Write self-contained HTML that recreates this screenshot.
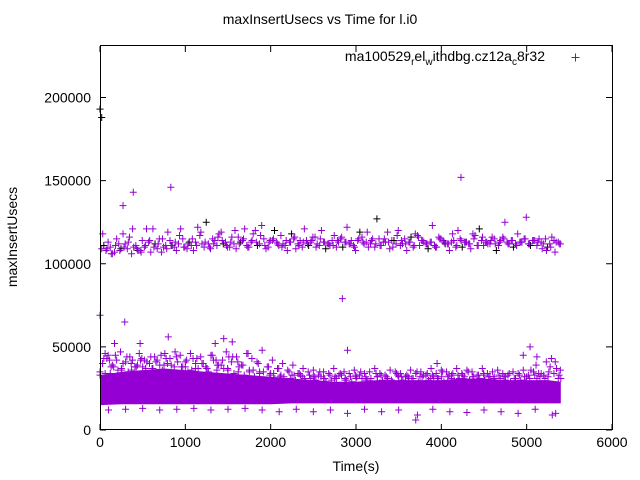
<!DOCTYPE html>
<html><head><meta charset="utf-8"><style>
body{margin:0;background:#fff}
svg{display:block;font-family:"Liberation Sans",sans-serif}
</style></head><body>
<svg id="chart" width="640" height="480" viewBox="0 0 640 480" xmlns="http://www.w3.org/2000/svg">
<rect width="640" height="480" fill="#fff"/>
<text x="320" y="24" font-size="14" text-anchor="middle">maxInsertUsecs vs Time for l.i0</text>
<text transform="translate(17,237) rotate(-90)" font-size="14" text-anchor="middle">maxInsertUsecs</text>
<text x="356" y="471" font-size="14" text-anchor="middle">Time(s)</text>
<g id="ticks"></g>
<g id="band"></g>
<g id="marks"></g>
<rect x="100.5" y="45.5" width="512" height="384" fill="none" stroke="#000" stroke-width="1"/>
<g>
<text x="545" y="61" font-size="14" text-anchor="end">ma100529<tspan font-size="10" dy="4">r</tspan><tspan dy="-4">el</tspan><tspan font-size="10" dy="4">w</tspan><tspan dy="-4">ithdbg.cz12a</tspan><tspan font-size="10" dy="4">c</tspan><tspan dy="-4">8r32</tspan></text>
<path d="M571.5,57.5h8M575.5,53.5v8" stroke="#9400d3" fill="none" stroke-width="1"/>
</g>
</svg>
<script>
const xTicks=[0,1000,2000,3000,4000,5000,6000];
const yTicks=[0,50000,100000,150000,200000];
const upperTimes=[20,70,120,170,220,270,320,370,420,470,520,570,620,670,720,770,820,870,920,970,1020,1070,1120,1170,1220,1270,1320,1370,1420,1470,1520,1570,1620,1670,1720,1770,1820,1870,1920,1970,2020,2070,2120,2170,2220,2270,2320,2370,2420,2470,2520,2570,2620,2670,2720,2770,2820,2870,2920,2970,3020,3070,3120,3170,3220,3270,3320,3370,3420,3470,3520,3570,3620,3670,3720,3770,3820,3870,3920,3970,4020,4070,4120,4170,4220,4270,4320,4370,4420,4470,4520,4570,4620,4670,4720,4770,4820,4870,4920,4970,5020,5070,5120,5170,5220,5270,5320,5370];
const upperA=[109000,108000,110000,107000,112000,118000,109000,106000,111000,108000,110000,113000,121000,109000,107000,111000,114000,110000,112000,115000,109000,111000,113000,117000,110000,112000,115000,111000,119000,113000,110000,112000,116000,114000,111000,113000,120000,112000,115000,110000,114000,113000,117000,111000,113000,115000,112000,110000,114000,113000,116000,111000,113000,112000,114000,110000,115000,113000,112000,111000,114000,116000,113000,112000,110000,115000,113000,119000,114000,112000,111000,115000,113000,110000,117000,114000,112000,113000,111000,116000,114000,112000,113000,110000,115000,113000,112000,118000,111000,114000,113000,112000,115000,111000,116000,113000,114000,112000,113000,115000,112000,114000,111000,113000,115000,112000,114000,113000];
const upperB=[111000,113000,106000,115000,109000,112000,116000,110000,108000,114000,121000,107000,112000,115000,110000,119000,111000,108000,121000,110000,113000,108000,122000,112000,125000,109000,114000,118000,112000,110000,116000,109000,113000,121000,110000,118000,111000,123000,109000,114000,120000,111000,112000,108000,118000,109000,114000,121000,111000,116000,112000,120000,109000,111000,117000,113000,110000,122000,114000,108000,119000,112000,110000,115000,127000,111000,113000,109000,114000,120000,112000,108000,116000,118000,111000,113000,109000,123000,110000,115000,112000,108000,114000,120000,110000,113000,109000,117000,121000,111000,112000,116000,108000,114000,125000,112000,110000,118000,113000,128000,111000,114000,115000,112000,110000,116000,113000,112000];
const bandTimes=[0,250,500,750,1000,1250,1500,1750,2000,2250,2500,2750,3000,3250,3500,3750,4000,4250,4500,4750,5000,5250,5400];
const bandLow=[15000,15500,15500,15500,15500,15500,15500,15500,15500,16000,16000,16000,16000,16000,16000,16000,16000,16000,16000,16000,16000,16000,16000];
const bandHigh=[33000,35000,36000,37000,36000,35000,34000,33000,32000,31000,30000,29000,29000,30000,30000,30000,30000,31000,31000,30000,30000,30000,29000];
const topTimes=[30,80,130,180,240,300,350,410,460,520,580,640,700,760,820,880,940,1000,1060,1120,1180,1240,1300,1360,1420,1480,1540,1600,1660,1720,1780,1840,1900,1960,2020,2080,2140,2200,2260,2320,2380,2440,2500,2560,2620,2680,2740,2800,2860,2920,2980,3040,3100,3160,3220,3280,3340,3400,3460,3520,3580,3640,3700,3760,3820,3880,3940,4000,4060,4120,4180,4240,4300,4360,4420,4480,4540,4600,4660,4720,4780,4840,4900,4960,5020,5080,5140,5200,5260,5320,5380];
const topVals=[40000,43000,38000,45000,47000,41000,44000,38000,46000,42000,40000,44000,39000,46000,43000,47000,45000,41000,46000,40000,44000,38000,45000,42000,39000,47000,41000,44000,39000,46000,43000,41000,48000,38000,42000,37000,40000,36000,39000,34000,37000,35000,36000,33000,35000,34000,37000,33000,35000,34000,36000,33000,34000,35000,37000,34000,33000,36000,35000,34000,32000,36000,34000,35000,33000,37000,34000,36000,35000,33000,37000,34000,36000,35000,33000,37000,34000,35000,36000,34000,33000,35000,34000,36000,33000,35000,34000,33000,35000,34000,33000];
const lowTimes=[100,300,500,700,900,1100,1300,1500,1700,1900,2100,2300,2500,2700,2900,3100,3300,3500,3700,3720,3900,4100,4300,4500,4700,4900,5100,5300,5340];
const lowVals=[12000,12500,13000,12000,12500,13000,12000,12500,13000,12000,11000,12500,11000,12000,10000,12500,11000,12000,6000,9000,12500,11000,10500,12000,11000,10000,12500,9000,10000];
const outTimes=[0,20,0,270,390,830,4230,2840,0,290,800,2900,5040,1350,1450,1550,470,4960,5120,3950,170,60];
const outVals=[193000,188000,69000,135000,143000,146000,152000,79000,33000,65000,56000,48000,50000,52000,55000,53000,52000,45000,44000,40000,52000,46000];
const X0=100,X1=612,Y0=430,Y1=46,XMAX=6000,YMAX=231000;
const sx=v=>X0+v/XMAX*(X1-X0);
const sy=v=>Y0-v/YMAX*(Y0-Y1);
const NS='http://www.w3.org/2000/svg';
const tk=document.getElementById('ticks');
xTicks.forEach(t=>{const x=sx(t);
 const p=document.createElementNS(NS,'path');p.setAttribute('d',`M${x},430v-6M${x},46v6`);p.setAttribute('stroke','#000');
 
 tk.appendChild(p);
 const l=document.createElementNS(NS,'text');l.setAttribute('x',x);l.setAttribute('y',447);l.setAttribute('font-size','14');l.setAttribute('text-anchor','middle');l.textContent=t;
 
 tk.appendChild(l);});
yTicks.forEach(t=>{const y=sy(t);
 const p=document.createElementNS(NS,'path');p.setAttribute('d',`M100,${y}h6M612,${y}h-6`);p.setAttribute('stroke','#000');
 
 tk.appendChild(p);
 const l=document.createElementNS(NS,'text');l.setAttribute('x',91);l.setAttribute('y',y+5);l.setAttribute('font-size','14');l.setAttribute('text-anchor','end');l.textContent=t;
 
 tk.appendChild(l);});
const bd=document.getElementById('band');
let d='M'+bandTimes.map((t,i)=>sx(t)+','+sy(bandHigh[i])).join('L');
for(let i=bandTimes.length-1;i>=0;i--)d+='L'+sx(bandTimes[i])+','+sy(bandLow[i]);
const ar=document.createElementNS(NS,'path');ar.setAttribute('d',d+'Z');ar.setAttribute('fill','#9400d3');

bd.appendChild(ar);
const mk=document.getElementById('marks');
function plus(t,v,c){const x=sx(t),y=sy(v);
 const p=document.createElementNS(NS,'path');p.setAttribute('d',`M${x-3.5},${y}h7M${x},${y-3.5}v7`);p.setAttribute('stroke',c);
 
 mk.appendChild(p);}
const P='#9400d3';
const TMAX=bandTimes[bandTimes.length-1];
upperTimes.forEach((t,i)=>{plus(t,upperA[i],P);plus(t+25,upperB[i],i%4==0?'#000':P);plus(t+12,upperA[(i+5)%upperA.length],P);});
topTimes.forEach((t,i)=>{plus(t,topVals[i],P);if(t+30<=TMAX)plus(t+30,topVals[(i+7)%topVals.length]-4000,P);plus(t+15,topVals[(i+3)%topVals.length]-2000,P);});
bandTimes.forEach((t,i)=>{plus(t,bandHigh[i]+2000,P);if(t+120<=TMAX)plus(t+120,bandHigh[i]+1000,P);});
lowTimes.forEach((t,i)=>plus(t,lowVals[i],P));
outTimes.forEach((t,i)=>plus(t,outVals[i],i<2?'#000':P));
</script>
</body></html>
